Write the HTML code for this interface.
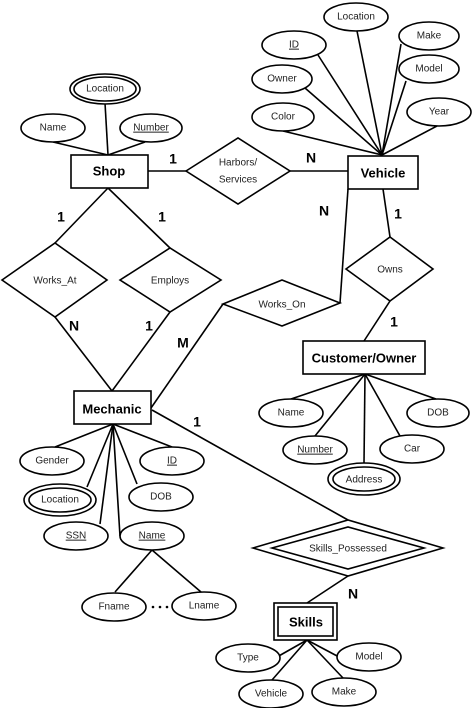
<!DOCTYPE html>
<html><head><meta charset="utf-8"><style>
html,body{margin:0;padding:0;background:#fff;}
svg{display:block;}
text{font-family:"Liberation Sans Narrow","Liberation Sans",sans-serif;fill:#222;text-anchor:middle;dominant-baseline:middle;}
.a{font-size:10px;}
.e{font-size:13px;font-weight:bold;fill:#000;}
.c{font-size:14px;font-weight:bold;fill:#000;font-family:"Liberation Sans",sans-serif;}
</style></head><body>
<svg width="472" height="708" viewBox="0 0 472 708" xmlns="http://www.w3.org/2000/svg">
<g stroke="#000" stroke-width="1.6" fill="none">
<!-- Shop attrs -->
<line x1="53" y1="142" x2="108" y2="155"/><line x1="105" y1="103" x2="108" y2="155"/><line x1="145" y1="142" x2="108" y2="155"/>
<!-- Shop-Harbors-Vehicle -->
<line x1="148" y1="171" x2="186" y2="171"/><line x1="290" y1="171" x2="348" y2="171"/>
<!-- Shop to diamonds -->
<line x1="108" y1="188" x2="55" y2="243"/><line x1="108" y1="188" x2="170" y2="248"/>
<line x1="55" y1="317" x2="112" y2="391"/><line x1="170" y1="312" x2="112" y2="391"/>
<!-- Vehicle attrs -->
<line x1="357" y1="31" x2="382" y2="155"/><line x1="318" y1="55" x2="382" y2="155"/>
<line x1="401" y1="44" x2="382" y2="155"/><line x1="406" y1="81" x2="382" y2="155"/>
<line x1="305" y1="88" x2="382" y2="155"/><line x1="283" y1="131" x2="382" y2="155"/>
<line x1="437" y1="126" x2="382" y2="155"/>
<!-- Works_On -->
<line x1="151" y1="408" x2="223" y2="304"/><line x1="340" y1="303" x2="348" y2="189"/>
<!-- Owns -->
<line x1="383" y1="189" x2="390" y2="237"/><line x1="390" y1="301" x2="364" y2="341"/>
<!-- Customer attrs -->
<line x1="365" y1="374" x2="291" y2="399"/><line x1="365" y1="374" x2="315" y2="436"/>
<line x1="365" y1="374" x2="364" y2="463"/><line x1="365" y1="374" x2="400" y2="436"/>
<line x1="365" y1="374" x2="436" y2="399"/>
<!-- Mechanic attrs -->
<line x1="113" y1="424" x2="55" y2="447"/><line x1="113" y1="424" x2="87" y2="487"/>
<line x1="113" y1="424" x2="100" y2="524"/><line x1="113" y1="424" x2="120" y2="536"/>
<line x1="113" y1="424" x2="137" y2="484"/><line x1="113" y1="424" x2="172" y2="447"/>
<line x1="152" y1="550" x2="115" y2="592"/><line x1="152" y1="550" x2="201" y2="592"/>
<!-- Mechanic-Skills_Possessed -->
<line x1="152" y1="410" x2="348" y2="520"/>
<line x1="348" y1="576" x2="307" y2="603"/>
<!-- Skills attrs -->
<line x1="307" y1="640" x2="277" y2="657"/><line x1="307" y1="640" x2="272" y2="680"/>
<line x1="307" y1="640" x2="343" y2="678"/><line x1="307" y1="640" x2="339" y2="657"/>
</g>
<g stroke="#000" stroke-width="1.6" fill="#fff">
<!-- Shop -->
<ellipse cx="105" cy="89" rx="35" ry="15"/><ellipse cx="105" cy="89" rx="31" ry="12"/>
<ellipse cx="53" cy="128" rx="32" ry="14"/><ellipse cx="151" cy="128" rx="31" ry="14"/>
<rect x="71" y="155" width="77" height="33"/>
<polygon points="186,171 238,138 290,171 238,204"/>
<polygon points="2,280 55,243 107,280 55,317"/>
<polygon points="120,280 170,248 221,280 170,312"/>
<!-- Vehicle -->
<ellipse cx="356" cy="17" rx="32" ry="14"/><ellipse cx="294" cy="45" rx="32" ry="14"/>
<ellipse cx="429" cy="36" rx="30" ry="14"/><ellipse cx="429" cy="69" rx="30" ry="14"/>
<ellipse cx="282" cy="79" rx="30" ry="14"/><ellipse cx="439" cy="112" rx="32" ry="14"/>
<ellipse cx="283" cy="117" rx="31" ry="14"/>
<rect x="348" y="156" width="70" height="33"/>
<polygon points="223,304 282,280 340,303 282,326"/>
<polygon points="346,269 390,237 433,269 390,301"/>
<!-- Customer -->
<rect x="303" y="341" width="122" height="33"/>
<ellipse cx="291" cy="413" rx="32" ry="14"/><ellipse cx="438" cy="413" rx="31" ry="14"/>
<ellipse cx="315" cy="450" rx="32" ry="14"/><ellipse cx="412" cy="449" rx="32" ry="14"/>
<ellipse cx="364" cy="479" rx="36" ry="16"/><ellipse cx="364" cy="479" rx="31" ry="12"/>
<!-- Mechanic -->
<rect x="74" y="391" width="77" height="33"/>
<ellipse cx="52" cy="461" rx="32" ry="14"/><ellipse cx="172" cy="461" rx="32" ry="14"/>
<ellipse cx="60" cy="500" rx="36" ry="16"/><ellipse cx="60" cy="500" rx="31" ry="12"/>
<ellipse cx="161" cy="497" rx="32" ry="14"/>
<ellipse cx="76" cy="536" rx="32" ry="14"/><ellipse cx="152" cy="536" rx="32" ry="14"/>
<ellipse cx="114" cy="607" rx="32" ry="14"/><ellipse cx="204" cy="606" rx="32" ry="14"/>
<!-- Skills_Possessed -->
<polygon points="253,548 348,520 443,548 348,576"/>
<polygon points="272,548 348,527 424,548 348,569"/>
<rect x="274" y="603" width="63" height="37"/>
<rect x="278" y="607" width="55" height="29"/>
<ellipse cx="248" cy="658" rx="32" ry="14"/><ellipse cx="369" cy="657" rx="32" ry="14"/>
<ellipse cx="271" cy="694" rx="32" ry="14"/><ellipse cx="344" cy="692" rx="32" ry="14"/>
</g>
<g fill="#000"><circle cx="153" cy="607" r="1.3"/><circle cx="160" cy="607" r="1.3"/><circle cx="167" cy="607" r="1.3"/></g>
<!-- labels -->
<text class="a" x="105" y="89">Location</text>
<text class="a" x="53" y="128">Name</text>
<text class="a" x="151" y="128" text-decoration="underline">Number</text>
<text class="e" x="109" y="172">Shop</text>
<text class="a" x="238" y="163">Harbors/</text><text class="a" x="238" y="180">Services</text>
<text class="a" x="55" y="281">Works_At</text>
<text class="a" x="170" y="281">Employs</text>
<text class="a" x="356" y="17">Location</text>
<text class="a" x="294" y="45" text-decoration="underline">ID</text>
<text class="a" x="429" y="36">Make</text>
<text class="a" x="429" y="69">Model</text>
<text class="a" x="282" y="79">Owner</text>
<text class="a" x="439" y="112">Year</text>
<text class="a" x="283" y="117">Color</text>
<text class="e" x="383" y="174">Vehicle</text>
<text class="a" x="282" y="305">Works_On</text>
<text class="a" x="390" y="270">Owns</text>
<text class="e" x="364" y="359">Customer/Owner</text>
<text class="a" x="291" y="413">Name</text>
<text class="a" x="438" y="413">DOB</text>
<text class="a" x="315" y="450" text-decoration="underline">Number</text>
<text class="a" x="412" y="449">Car</text>
<text class="a" x="364" y="480">Address</text>
<text class="e" x="112" y="410">Mechanic</text>
<text class="a" x="52" y="461">Gender</text>
<text class="a" x="172" y="461" text-decoration="underline">ID</text>
<text class="a" x="60" y="500">Location</text>
<text class="a" x="161" y="497">DOB</text>
<text class="a" x="76" y="536" text-decoration="underline">SSN</text>
<text class="a" x="152" y="536" text-decoration="underline">Name</text>
<text class="a" x="114" y="607">Fname</text>
<text class="a" x="204" y="606">Lname</text>
<text class="a" x="348" y="549">Skills_Possessed</text>
<text class="e" x="306" y="623">Skills</text>
<text class="a" x="248" y="658">Type</text>
<text class="a" x="369" y="657">Model</text>
<text class="a" x="271" y="694">Vehicle</text>
<text class="a" x="344" y="692">Make</text>
<!-- cardinalities -->
<text class="c" x="173" y="160">1</text>
<text class="c" x="311" y="159">N</text>
<text class="c" x="61" y="218">1</text>
<text class="c" x="162" y="218">1</text>
<text class="c" x="74" y="327">N</text>
<text class="c" x="149" y="327">1</text>
<text class="c" x="183" y="344">M</text>
<text class="c" x="324" y="212">N</text>
<text class="c" x="398" y="215">1</text>
<text class="c" x="394" y="323">1</text>
<text class="c" x="197" y="423">1</text>
<text class="c" x="353" y="595">N</text>
</svg>
</body></html>
